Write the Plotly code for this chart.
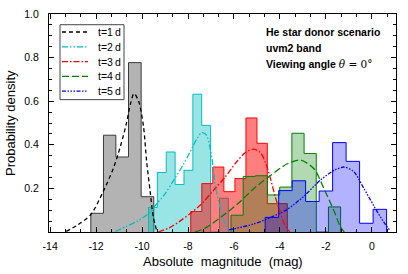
import plotly.graph_objects as go

# ---------------- data ----------------
# histogram bin edges and densities
h1_edges = [-12.23, -11.68, -11.14, -10.59, -10.04, -9.49]
h1_vals = [0.086, 0.444, 0.344, 0.777, 0.162]

h2_edges = [-9.72, -9.334, -8.948, -8.562, -8.176, -7.79, -7.404, -7.018, -6.632, -6.246]
h2_vals = [0.113, 0.273, 0.367, 0.218, 0.283, 0.632, 0.489, 0.0, 0.155]

h3_edges = [-7.88, -7.40, -6.92, -6.44, -5.96, -5.48, -5.00, -4.55, -4.12, -3.68]
h3_vals = [0.094, 0.222, 0.298, 0.185, 0.245, 0.523, 0.407, 0.13, 0.13]

h4_edges = [-6.13, -5.60, -5.07, -4.54, -4.01, -3.48, -2.95, -2.42, -1.89, -1.36]
h4_vals = [0.077, 0.255, 0.258, 0.17, 0.206, 0.453, 0.36, 0.0, 0.115]

h5_edges = [-4.643, -4.056, -3.469, -2.882, -2.295, -1.708, -1.121, -0.534, 0.053, 0.64]
h5_vals = [0.067, 0.19, 0.235, 0.14, 0.188, 0.41, 0.324, 0.04, 0.104]

# fitted curves (magnitude, density)
c1_x = [-13.3, -12.84, -12.23, -11.68, -11.25, -10.95, -10.7, -10.5, -10.35, -10.15, -9.94, -9.8, -9.65, -9.51, -9.36]
c1_y = [0.003, 0.03, 0.08, 0.188, 0.292, 0.39, 0.49, 0.59, 0.635, 0.6, 0.486, 0.322, 0.188, 0.068, 0.005]

c2_x = [-11.15, -10.7, -10.2, -9.65, -9.4, -9.0, -8.64, -8.2, -7.9, -7.6, -7.4, -7.2, -7.05, -6.95, -6.77, -6.53, -6.3, -6.15]
c2_y = [0.003, 0.025, 0.05, 0.09, 0.125, 0.175, 0.235, 0.31, 0.37, 0.43, 0.456, 0.445, 0.39, 0.33, 0.19, 0.085, 0.015, 0.0]

c3_x = [-9.3, -8.8, -8.35, -7.9, -7.4, -6.9, -6.4, -5.9, -5.5, -5.15, -4.85, -4.6, -4.4, -4.2, -4.0, -3.78, -3.57]
c3_y = [0.0, 0.02, 0.05, 0.085, 0.13, 0.19, 0.25, 0.32, 0.365, 0.38, 0.365, 0.31, 0.24, 0.16, 0.095, 0.03, 0.0]

c4_x = [-7.7, -7.3, -6.58, -5.86, -5.13, -4.4, -3.68, -3.12, -2.52, -2.09, -1.65, -1.36, -1.2]
c4_y = [0.0, 0.015, 0.067, 0.127, 0.2, 0.26, 0.313, 0.33, 0.29, 0.2, 0.097, 0.022, 0.0]

c5_x = [-6.22, -5.13, -4.4, -3.68, -2.96, -2.23, -1.6, -1.2, -0.78, -0.35, 0.09, 0.52, 0.8]
c5_y = [0.01, 0.037, 0.067, 0.104, 0.164, 0.239, 0.285, 0.298, 0.276, 0.2, 0.119, 0.045, 0.005]

labels = ["t=1\u2009d", "t=2\u2009d", "t=3\u2009d", "t=4\u2009d", "t=5\u2009d"]
x_ticks = [-14, -12, -10, -8, -6, -4, -2, 0]
y_ticks = [0.2, 0.4, 0.6, 0.8, 1.0]

# ---------------- styles ----------------
fills = ["rgba(128,128,128,0.6)", "rgba(0,191,191,0.4)", "rgba(255,0,0,0.5)",
         "rgba(0,128,0,0.3)", "rgba(0,0,255,0.3)"]
edges_col = ["#3a3a3a", "#00bfbf", "#ff0000", "#008000", "#0000ff"]
curve_col = ["#000000", "#00bfbf", "#ff0000", "#008000", "#0000ff"]
dashes = ["4px,3px", "6px,2px,1.5px,2px,1.5px,2px", "6px,2px,1.5px,2px",
          "7px,3px", "4px,1.5px,1.5px,1.5px,1.5px,1.5px,1.5px,1.5px"]

hists = [(h1_edges, h1_vals), (h2_edges, h2_vals), (h3_edges, h3_vals),
         (h4_edges, h4_vals), (h5_edges, h5_vals)]
curves = [(c1_x, c1_y), (c2_x, c2_y), (c3_x, c3_y), (c4_x, c4_y), (c5_x, c5_y)]

fig = go.Figure()

for i, (e, v) in enumerate(hists):
    xs = [e[0]] + list(e[:-1]) + [e[-1]]
    ys = [0] + list(v) + [0]
    fig.add_trace(go.Scatter(x=xs, y=ys, mode="lines", line=dict(shape="hv", color=edges_col[i], width=1),
                             fill="tozeroy", fillcolor=fills[i], showlegend=False, hoverinfo="skip"))

for i, (cx, cy) in enumerate(curves):
    fig.add_trace(go.Scatter(x=cx, y=cy, mode="lines",
                             line=dict(shape="spline", smoothing=0.8, color=curve_col[i], width=1.3, dash=dashes[i]),
                             showlegend=False))

# ---------------- manual legend ----------------
def px(xp):
    return (xp - 49) / 347.0

def py(yp):
    return (232 - yp) / 224.0

fig.add_shape(type="rect", xref="paper", yref="paper", x0=px(60), x1=px(124), y0=py(96), y1=py(19),
              line=dict(color="#444", width=1), fillcolor="white", layer="above")
for i in range(5):
    yy = py(26.5 + 15.2 * i)
    fig.add_shape(type="line", xref="paper", yref="paper", x0=px(62), x1=px(88), y0=yy, y1=yy,
                  line=dict(color=curve_col[i], width=1.3, dash=dashes[i]), layer="above")
    fig.add_annotation(xref="paper", yref="paper", x=px(96), y=yy, text=labels[i], showarrow=False,
                       xanchor="left", yanchor="middle", font=dict(size=10.5, color="black"))

notes = ["<b>He star donor scenario</b>", "<b>uvm2 band</b>",
         "<b>Viewing angle </b><span style='font-family:DejaVu Serif'><i>θ</i> = 0°</span>"]
for i, t in enumerate(notes):
    fig.add_annotation(xref="paper", yref="paper", x=px(264), y=py(27 + 16 * i), text=t, showarrow=False,
                       xanchor="left", yanchor="middle", font=dict(size=10.5, color="black"))

# axis titles
fig.add_annotation(xref="paper", yref="paper", x=px(222.5), y=py(262), text="Absolute\u00a0 magnitude\u00a0 (mag)",
                   showarrow=False, xanchor="center", yanchor="middle", font=dict(size=13, color="black"))
fig.add_annotation(xref="paper", yref="paper", x=px(10), y=py(120), text="Probability density", textangle=-90,
                   showarrow=False, xanchor="center", yanchor="middle", font=dict(size=13, color="black"))

axis_common = dict(showline=True, linecolor="black", linewidth=1, mirror="ticks", ticks="inside",
                   ticklen=5, tickcolor="black", showgrid=False, zeroline=False,
                   tickfont=dict(size=10.5, color="black"))

fig.update_xaxes(range=[-14.05, 1.05], tickvals=x_ticks, ticktext=[str(v) for v in x_ticks],
                 ticklabelstandoff=4,
                 minor=dict(ticks="inside", ticklen=3, dtick=2 / 3, tick0=-14, tickcolor="black", showgrid=False),
                 **axis_common)
fig.update_yaxes(range=[0, 1.0], tickvals=y_ticks, ticktext=["%.1f" % v for v in y_ticks],
                 ticklabelstandoff=7,
                 minor=dict(ticks="inside", ticklen=3, dtick=0.05, tick0=0, tickcolor="black", showgrid=False),
                 **axis_common)

fig.update_layout(width=408, height=274, margin=dict(l=49, r=12, t=8, b=42),
                  plot_bgcolor="white", paper_bgcolor="white",
                  font=dict(family="Liberation Sans, Arial, sans-serif", color="black"))

fig.write_html("out.html", config={"displayModeBar": False},
               post_script="document.body.style.margin='0';document.body.style.overflow='hidden';")
